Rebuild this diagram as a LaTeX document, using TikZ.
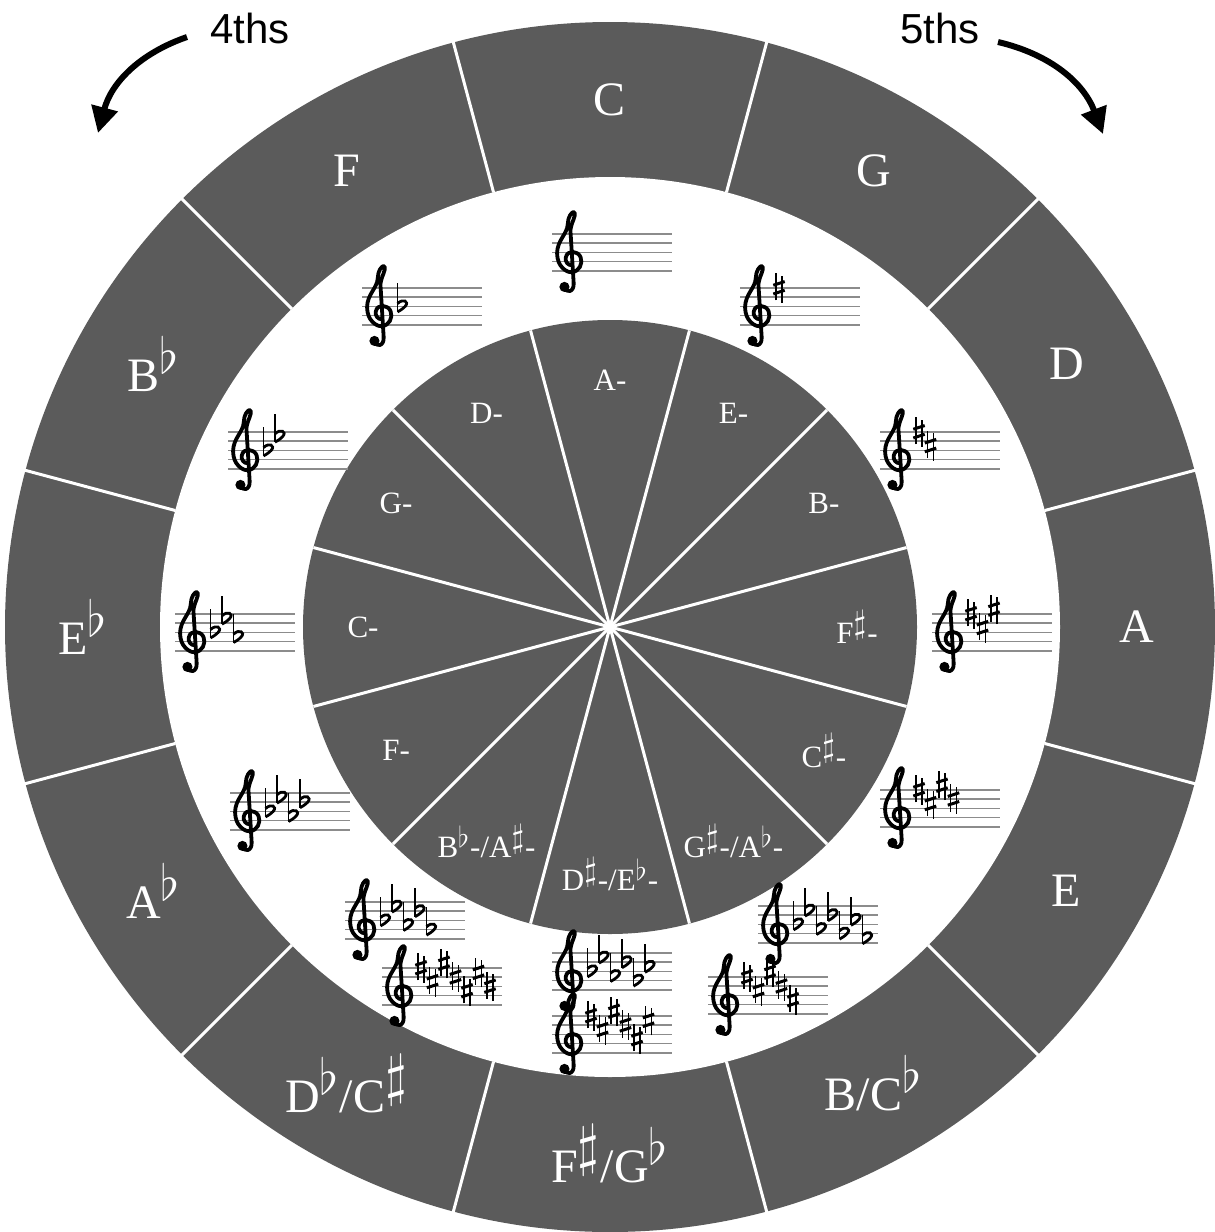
\documentclass[tikz,border=0pt]{standalone}
\usepackage{fontspec}
\usepackage{graphicx}
\setmainfont{Liberation Serif}
\newfontfamily\arrowfont{Liberation Sans}
\usetikzlibrary{arrows.meta}
\definecolor{ring}{HTML}{5B5B5B}
\definecolor{staff}{HTML}{8C8C8C}
\newcommand{\fl}{$^{\textstyle\flat}$}
\newcommand{\sh}{$^{\scalebox{1.15}{$\textstyle\sharp$}}$}
\tikzset{
  majorlabel/.style={text=white,font=\fontsize{24}{24}\selectfont,inner sep=0pt},
  minorlabel/.style={text=white,font=\fontsize{15.5}{16}\selectfont,inner sep=0pt},
  arrowlabel/.style={font=\arrowfont\fontsize{21}{21}\selectfont,inner sep=0pt},
  divider/.style={draw=white,line width=1.5pt},
  staffline/.style={draw=staff,line width=0.75pt},
  bigarrow/.style={-{Triangle[length=13pt,width=13pt]},line width=3pt},
  gclef/.pic={
    \begin{scope}[x=4.6pt,y=4.6pt]
      \fill (0.7,-1.75) circle[radius=0.55];
      \draw[line width=1.9pt,line cap=round,line join=round]
        (0.7,-1.75) .. controls (0.85,-2.5) and (1.8,-2.35) .. (1.7,-1.3)
        -- (1.35,4.4)
        .. controls (1.45,5.3) and (2.0,6.0) .. (1.8,6.35)
        .. controls (1.55,6.6) and (1.05,5.8) .. (1.05,5.0)
        .. controls (1.0,4.0) and (-0.1,3.3) .. (-0.1,1.9)
        .. controls (-0.1,0.5) and (0.9,-0.2) .. (1.5,-0.15)
        .. controls (2.3,-0.1) and (2.75,0.8) .. (2.45,1.5)
        .. controls (2.15,2.2) and (1.0,2.3) .. (0.85,1.45)
        .. controls (0.75,0.95) and (1.1,0.6) .. (1.5,0.6);
    \end{scope}},
  sharpsign/.pic={
    \begin{scope}[x=4.6pt,y=4.6pt]
      \draw[line width=0.6pt] (-0.32,-1.35) -- (-0.32,1.6) (0.32,-1.6) -- (0.32,1.35);
      \draw[line width=1.5pt] (-0.62,-0.65) -- (0.62,-0.25) (-0.62,0.3) -- (0.62,0.7);
    \end{scope}},
  flatsign/.pic={
    \begin{scope}[x=4.6pt,y=4.6pt]
      \draw[line width=0.7pt] (-0.38,-0.6) -- (-0.38,2.5);
      \draw[line width=1.4pt] (-0.38,0.3) .. controls (0.2,0.9) and (0.95,0.55) .. (0.45,0.0)
        .. controls (0.15,-0.3) and (-0.1,-0.45) .. (-0.38,-0.6);
    \end{scope}},
}
% staff with clef and key signature: x, y of top line, s/f, count
\newcommand{\keysig}[4]{%
  \begin{scope}[shift={(#1,#2)}]
    \foreach \l in {0,...,4} \draw[staffline] (0,\l*9.2) -- (120,\l*9.2);
    \pic at (6,36.8) {gclef};
    \ifx#3s
      \foreach \p [count=\n] in {8,5,9,6,3,7,4}
        {\ifnum\n>#4\relax\else\pic at ({39+11.5*(\n-1)},{36.8-4.6*\p}) {sharpsign};\fi}
    \else
      \foreach \p [count=\n] in {4,7,3,6,2,5,1}
        {\ifnum\n>#4\relax\else\pic at ({39+11.5*(\n-1)},{36.8-4.6*\p}) {flatsign};\fi}
    \fi
  \end{scope}}

\begin{document}
\begin{tikzpicture}[x=0.5pt,y=-0.5pt]
\useasboundingbox (0,0) rectangle (1215,1232);

% rings
\fill[ring] (610,627) circle[radius=605];
\fill[white] (610,627) circle[radius=450];
\fill[ring] (610,627) circle[radius=307];

\begin{scope}[shift={(610,627)}]
  \foreach \i in {0,...,11} {
    \draw[divider] ({-75+30*\i}:450) -- ({-75+30*\i}:607);
    \draw[divider] (0,0) -- ({-75+30*\i}:307);
  }
  \foreach \lab [count=\i from 0] in {C,G,D,A,E,B/C\fl,F\sh/G\fl,D\fl/C\sh,A\fl,E\fl,B\fl,F}
    \node[majorlabel] (major\i) at ({-90+30*\i}:527) {\lab};
  \foreach \lab [count=\i from 0] in {A-,E-,B-,F\sh-,C\sh-,G\sh-/A\fl-,D\sh-/E\fl-,B\fl-/A\sh-,F-,C-,G-,D-}
    \node[minorlabel] (minor\i) at ({-90+30*\i}:247) {\lab};
\end{scope}

% key signatures
\keysig{552}{234}{s}{0}
\keysig{740}{288}{s}{1}
\keysig{880}{432}{s}{2}
\keysig{932}{614}{s}{3}
\keysig{880}{790}{s}{4}
\keysig{758}{906}{f}{7}
\keysig{708}{977}{s}{5}
\keysig{552}{953}{f}{6}
\keysig{552}{1016}{s}{6}
\keysig{345}{902}{f}{5}
\keysig{382}{968}{s}{7}
\keysig{230}{793}{f}{4}
\keysig{175}{614}{f}{3}
\keysig{228}{432}{f}{2}
\keysig{362}{288}{f}{1}

% direction arrows
\node[arrowlabel] (fourths) at (250,28) {4ths};
\node[arrowlabel] (fifths) at (940,28) {5ths};
\coordinate (fourthsFrom) at (187,37);
\coordinate (fourthsTo) at (98,133);
\coordinate (fifthsFrom) at (998,42);
\coordinate (fifthsTo) at (1103,134);
\draw[bigarrow] (fourthsFrom) to[bend right=28] (fourthsTo);
\draw[bigarrow] (fifthsFrom) to[bend left=28] (fifthsTo);
\end{tikzpicture}
\end{document}
